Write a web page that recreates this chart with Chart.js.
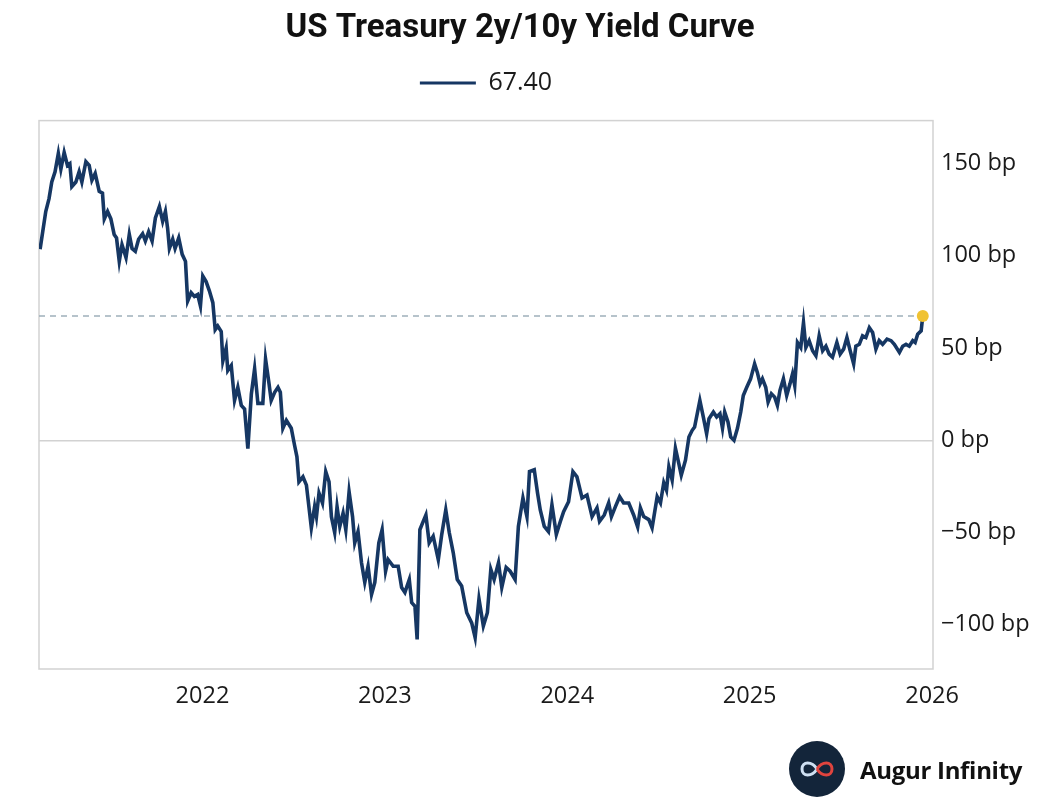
<!DOCTYPE html>
<html>
<head>
<meta charset="utf-8">
<script src="https://cdn.jsdelivr.net/npm/chart.js@4.4.1/dist/chart.umd.min.js"></script>
<style>
  html, body { margin: 0; padding: 0; background: #fff; }
  #wrap { position: relative; width: 1040px; height: 812px; }
  #brand { position: absolute; left: 789px; top: 741px; height: 56px; display: flex; align-items: center; }
  #brand .logo { width: 56px; height: 56px; border-radius: 50%; background: #13253a; display: flex; align-items: center; justify-content: center; }
  #brand .name { margin-left: 15px; font: bold 24px "Open Sans", sans-serif; color: #111; letter-spacing: -0.3px; }
</style>
</head>
<body>
<div id="wrap">
  <canvas id="yield-chart" width="1040" height="812"></canvas>
  <div id="brand">
    <div class="logo">
      <svg width="40" height="24" viewBox="0 0 40 24">
        <path d="M20 12 C15 4, 5 4, 5 12 C5 20, 15 20, 20 12" fill="none" stroke="#cfe0f2" stroke-width="3"/>
        <path d="M20 12 C25 4, 35 4, 35 12 C35 20, 25 20, 20 12" fill="none" stroke="#e0443e" stroke-width="3"/>
      </svg>
    </div>
    <div class="name">Augur Infinity</div>
  </div>
</div>
<script>
// decimal years of each reading, and the 2y/10y spread in bp
const years = [
  2021.110, 2021.141, 2021.159, 2021.174, 2021.192, 2021.210, 2021.224, 2021.242, 2021.260, 2021.273,
  2021.284, 2021.306, 2021.324, 2021.339, 2021.361, 2021.379, 2021.394, 2021.412, 2021.434, 2021.452,
  2021.462, 2021.480, 2021.498, 2021.516, 2021.529, 2021.544, 2021.559, 2021.581, 2021.599, 2021.614,
  2021.632, 2021.650, 2021.672, 2021.687, 2021.705, 2021.724, 2021.742, 2021.764, 2021.782, 2021.797,
  2021.809, 2021.819, 2021.837, 2021.850, 2021.870, 2021.889, 2021.907, 2021.919, 2021.938, 2021.956,
  2021.974, 2021.989, 2022.002, 2022.020, 2022.038, 2022.057, 2022.070, 2022.084, 2022.103, 2022.112,
  2022.130, 2022.139, 2022.158, 2022.176, 2022.194, 2022.213, 2022.231, 2022.249, 2022.268, 2022.286,
  2022.304, 2022.331, 2022.346, 2022.364, 2022.377, 2022.396, 2022.414, 2022.427, 2022.441, 2022.460,
  2022.487, 2022.505, 2022.518, 2022.529, 2022.551, 2022.570, 2022.597, 2022.615, 2022.625, 2022.639,
  2022.658, 2022.676, 2022.694, 2022.707, 2022.725, 2022.738, 2022.753, 2022.771, 2022.786, 2022.804,
  2022.823, 2022.835, 2022.853, 2022.872, 2022.890, 2022.908, 2022.927, 2022.945, 2022.967, 2022.985,
  2023.004, 2023.018, 2023.046, 2023.073, 2023.092, 2023.110, 2023.134, 2023.147, 2023.165, 2023.177,
  2023.192, 2023.207, 2023.225, 2023.243, 2023.265, 2023.293, 2023.312, 2023.334, 2023.353, 2023.375,
  2023.397, 2023.421, 2023.449, 2023.476, 2023.495, 2023.516, 2023.540, 2023.562, 2023.581, 2023.599,
  2023.623, 2023.641, 2023.665, 2023.687, 2023.714, 2023.732, 2023.757, 2023.779, 2023.793, 2023.819,
  2023.837, 2023.852, 2023.874, 2023.897, 2023.916, 2023.940, 2023.962, 2023.980, 2024.007, 2024.031,
  2024.053, 2024.081, 2024.108, 2024.136, 2024.163, 2024.177, 2024.203, 2024.227, 2024.242, 2024.264,
  2024.287, 2024.309, 2024.337, 2024.364, 2024.386, 2024.401, 2024.419, 2024.447, 2024.465, 2024.493,
  2024.511, 2024.529, 2024.544, 2024.557, 2024.575, 2024.593, 2024.611, 2024.625, 2024.648, 2024.667,
  2024.685, 2024.698, 2024.727, 2024.746, 2024.764, 2024.777, 2024.801, 2024.819, 2024.837, 2024.851,
  2024.863, 2024.881, 2024.896, 2024.914, 2024.933, 2024.951, 2024.965, 2024.984, 2025.005, 2025.027,
  2025.042, 2025.057, 2025.070, 2025.088, 2025.101, 2025.119, 2025.137, 2025.152, 2025.166, 2025.185,
  2025.203, 2025.221, 2025.235, 2025.247, 2025.262, 2025.280, 2025.295, 2025.308, 2025.326, 2025.345,
  2025.363, 2025.381, 2025.400, 2025.418, 2025.436, 2025.454, 2025.478, 2025.496, 2025.515, 2025.533,
  2025.551, 2025.570, 2025.582, 2025.601, 2025.619, 2025.637, 2025.656, 2025.674, 2025.692, 2025.710,
  2025.729, 2025.753, 2025.775, 2025.793, 2025.821, 2025.839, 2025.857, 2025.875, 2025.894, 2025.907,
  2025.921, 2025.940, 2025.949
]

const spread = [
  103.6, 124, 131, 140, 145.6, 155.5, 147, 156, 149, 150,
  137.5, 140, 145.6, 140, 151, 149, 141, 144.7, 135, 134,
  120, 124, 120, 111.6, 109.7, 97, 106, 99, 111.6, 104,
  102.5, 109, 112, 108, 113, 108, 120.5, 126.7, 118.7, 124,
  115, 104, 109, 104, 109.7, 100.8, 97, 75.5, 80, 78,
  79, 72.8, 89, 86, 81, 74.6, 60, 62, 59, 43,
  50, 37.8, 40.5, 21.6, 28.7, 18.9, 17, -4.5, 25, 38.8,
  20, 20, 44, 31.5, 21.6, 26, 28.7, 26, 6.5, 10.8,
  6.5, -2.7, -9, -22.5, -19.8, -24.3, -47.5, -36, -41.4, -28.6,
  -34, -17, -22.5, -41.4, -50, -36, -46.7, -39.5, -48.5, -27.9,
  -41.4, -55.6, -49.5, -66.4, -77, -68.3, -83.6, -77, -55.6, -48.5,
  -71, -64.7, -68.3, -68.3, -79.8, -82.5, -75.5, -88, -90, -108,
  -48.5, -44.8, -40.5, -55.6, -52, -64.7, -51, -37.8, -50, -61,
  -75.5, -79, -93.5, -99, -107, -86, -100.7, -93.5, -70, -75.5,
  -66.4, -79.8, -69, -71, -75.5, -46.7, -31.3, -41.4, -17, -16,
  -28.6, -37.8, -46.7, -49.5, -35, -51, -44, -38.7, -33.3, -17,
  -19.8, -31.3, -29.7, -41.4, -36.7, -44, -40.5, -34, -41.4, -36,
  -30.6, -34, -34, -40.5, -47, -36.7, -41.4, -43, -47.5, -30.6,
  -34, -23, -27, -14.4, -21.6, -4.3, -12.4, -18.9, -10.8, 1.8,
  5.4, 7.2, 21.6, 12.6, 3.6, 11.7, 15.3, 12.6, 14.4, 6.5,
  15.3, 9.9, 1.8, 0, 6.5, 15.3, 24.3, 28.7, 33.3, 41.4,
  36.8, 30.6, 33.3, 28.7, 20.7, 25.2, 23.4, 18.9, 27, 33.3,
  24.3, 30.6, 36, 29.7, 53, 50.3, 63.8, 50.3, 54, 48.5,
  45.8, 56.6, 48.5, 51, 46.7, 45, 53, 46.7, 49.4, 55.7,
  48.5, 41.4, 51, 52, 56.6, 55.7, 61, 58.4, 49.4, 54,
  52, 54.8, 54, 52, 47.6, 51, 52, 51, 54, 53,
  57.5, 59.3, 67.4
]

const xTicks = [2022, 2023, 2024, 2025, 2026]
const yTicks = [-100, -50, 0, 50, 100, 150]

const xMin = 2021.104
const xMax = 2026.005
const lastYear = years[years.length - 1]
const lastValue = spread[spread.length - 1]

const navy = '#163763'
const font = '"Open Sans", "Noto Sans", sans-serif'

const points = years.map((yr, i) => ({ x: yr, y: spread[i] }))

// draws the light grey frame round the plot area
const plotFrame = {
  id: 'plotFrame',
  beforeDatasetsDraw(chart) {
    const { ctx, chartArea: a } = chart
    ctx.save()
    ctx.strokeStyle = '#d2d2d2'
    ctx.lineWidth = 1.5
    ctx.strokeRect(a.left, a.top, a.right - a.left, a.bottom - a.top)
    ctx.restore()
  }
}

// extra gap below the legend, and legend centred over the plot area
const legendTweak = {
  id: 'legendTweak',
  beforeInit(chart) {
    const legend = chart.legend
    const fit = legend.fit
    const draw = legend.draw
    legend.fit = function () {
      fit.call(legend)
      legend.height += 15
    }
    legend.draw = function () {
      const a = chart.chartArea
      const dx = ((a.left + a.right) - (legend.left + legend.right)) / 2
      chart.ctx.save()
      chart.ctx.translate(dx, 0)
      draw.call(legend)
      chart.ctx.restore()
    }
  }
}

const ctx = document.getElementById('yield-chart')

const yieldChart = new Chart(ctx, {
  type: 'line',
  data: {
    datasets: [
      {
        label: lastValue.toFixed(2),
        data: points,
        borderColor: navy,
        backgroundColor: navy,
        borderWidth: 3.6,
        pointRadius: 0,
        tension: 0,
        order: 1
      },
      {
        label: 'last',
        data: [{ x: xMin, y: lastValue }, { x: lastYear, y: lastValue }],
        borderColor: '#9fb0ba',
        borderWidth: 1.5,
        borderDash: [6, 5],
        pointRadius: 0,
        order: 2
      },
      {
        label: 'dot',
        data: [{ x: lastYear, y: lastValue }],
        pointRadius: 6,
        pointBackgroundColor: '#f0c232',
        pointBorderWidth: 0,
        showLine: false,
        order: 0
      }
    ]
  },
  options: {
    responsive: false,
    animation: false,
    layout: {
      padding: 0
    },
    scales: {
      x: {
        type: 'linear',
        min: xMin,
        max: xMax,
        afterBuildTicks: (scale) => { scale.ticks = xTicks.map(v => ({ value: v })) },
        afterFit: (scale) => { scale.height = 143 },
        grid: { display: false },
        border: { display: false },
        ticks: {
          padding: 5,
          color: '#1a1a1a',
          font: { family: font, size: 23.5 },
          maxRotation: 0,
          callback: (v) => String(v)
        }
      },
      // empty left axis, only reserves the left margin
      yLeft: {
        position: 'left',
        min: -124,
        max: 173.3,
        afterFit: (scale) => { scale.width = 39 },
        grid: { display: false },
        border: { display: false },
        ticks: { display: false }
      },
      y: {
        position: 'right',
        min: -124,
        max: 173.3,
        afterBuildTicks: (scale) => { scale.ticks = yTicks.map(v => ({ value: v })) },
        afterFit: (scale) => { scale.width = 107 },
        grid: {
          drawTicks: false,
          lineWidth: 1.5,
          color: (c) => (c.tick && c.tick.value === 0 ? '#d2d2d2' : 'rgba(0,0,0,0)')
        },
        border: { display: false },
        ticks: {
          padding: 8,
          color: '#1a1a1a',
          font: { family: font, size: 23.5 },
          callback: (v) => (v < 0 ? '\u2212' + Math.abs(v) : v) + ' bp'
        }
      }
    },
    plugins: {
      title: {
        display: true,
        text: 'US Treasury 2y/10y Yield Curve',
        color: '#111',
        font: { family: 'Roboto, "Open Sans", sans-serif', size: 33, weight: 'bold' },
        padding: { top: 9, bottom: 14 }
      },
      legend: {
        display: true,
        position: 'top',
        labels: {
          color: '#1a1a1a',
          font: { family: font, size: 25 },
          boxWidth: 56,
          boxHeight: 3,
          padding: 8,
          filter: (item) => item.datasetIndex === 0,
          generateLabels: (chart) => Chart.defaults.plugins.legend.labels.generateLabels(chart)
            .map(l => Object.assign(l, { lineWidth: 0, fillStyle: navy }))
        }
      },
      tooltip: { enabled: false }
    }
  },
  plugins: [plotFrame, legendTweak]
})
</script>
</body>
</html>
